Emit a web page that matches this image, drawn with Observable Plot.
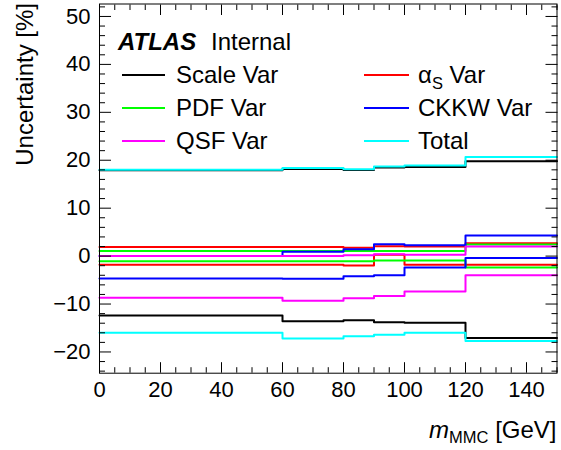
<!DOCTYPE html>
<html><head><meta charset="utf-8">
<script src="https://cdn.jsdelivr.net/npm/d3@7"></script>
<script src="https://cdn.jsdelivr.net/npm/@observablehq/plot@0.6"></script>
<style>
body{margin:0;background:#fff;}
#chart{position:relative;width:561px;height:450px;}
svg text{font-family:"Liberation Sans",Arial,Helvetica,sans-serif;}
</style>
</head><body><div id="chart"></div>
<script>
// ---- data ----
const binEdges = [0, 60, 80, 90, 100, 120, 150];
const seriesNames = ["Scale Var", "αS Var", "PDF Var", "CKKW Var", "QSF Var", "Total"];
const seriesColors = ["#000000", "#ff0000", "#00ff00", "#0000ff", "#ff00ff", "#00ffff"];
const scaleUp   = [17.9, 18.2, 17.95, 18.5, 18.6, 19.8];
const scaleDown = [-12.4, -13.6, -13.4, -13.8, -13.9, -17.1];
const alphaUp   = [1.88, 1.88, 1.74, 2.05, 2.0, 2.7];
const alphaDown = [-1.8, -1.8, -1.95, 0.3, -1.8, -1.8];
const pdfUp     = [1.05, 1.05, 1.05, 1.05, 1.05, 2.4];
const pdfDown   = [-1.05, -1.05, -1.05, -0.9, -0.9, -2.4];
const ckkwUp    = [0.0, 0.9, 1.45, 2.45, 2.25, 4.3];
const ckkwDown  = [-4.65, -4.7, -4.2, -4.0, -2.4, -0.4];
const qsfUp     = [0.0, 0.0, 0.2, 0.4, 0.3, 2.0];
const qsfDown   = [-8.7, -9.3, -8.8, -8.3, -7.4, -4.0];
const totalUp   = [18.0, 18.4, 18.1, 18.7, 18.9, 20.7];
const totalDown = [-16.0, -17.2, -16.7, -16.4, -16.0, -17.7];
const xMajor = [0, 20, 40, 60, 80, 100, 120, 140];
const yMajor = [-20, -10, 0, 10, 20, 30, 40, 50];

const seriesValues = [
  [scaleUp, scaleDown], [alphaUp, alphaDown], [pdfUp, pdfDown],
  [ckkwUp, ckkwDown], [qsfUp, qsfDown], [totalUp, totalDown]
];

// step points: each bin value at its low edge, last value repeated at the upper edge
function stepRows(vals, key) {
  const rows = vals.map((v, i) => ({x: binEdges[i], y: v, key}));
  rows.push({x: binEdges[binEdges.length - 1], y: vals[vals.length - 1], key});
  return rows;
}

const xMinor = d3.range(0, 151, 5).filter(d => !xMajor.includes(d));
const yMinor = d3.range(-24, 53, 2).filter(d => !yMajor.includes(d));

const lineMarks = [];
seriesValues.forEach((pair, s) => {
  pair.forEach((vals, j) => {
    lineMarks.push(Plot.line(stepRows(vals, s + "_" + j), {
      x: "x", y: "y", curve: "step-after",
      stroke: seriesColors[s], strokeWidth: 2
    }));
  });
});

const font = '"Liberation Sans",Arial,Helvetica,sans-serif';
const plot = Plot.plot({
  width: 561, height: 450,
  marginLeft: 99, marginRight: 4.5, marginTop: 3.5, marginBottom: 77.3,
  style: {fontFamily: font, background: "white", color: "black"},
  x: {domain: [0, 150], label: null},
  y: {domain: [-24.43, 52.6], label: null},
  marks: [
    ...lineMarks,
    // inward ticks on all four sides
    Plot.axisY(yMajor, {anchor: "left", tickSize: 12, dx: 12, text: null, label: null}),
    Plot.axisY(yMinor, {anchor: "left", tickSize: 6, dx: 6, text: null, label: null}),
    Plot.axisY(yMajor, {anchor: "right", tickSize: 12, dx: -12, text: null, label: null}),
    Plot.axisY(yMinor, {anchor: "right", tickSize: 6, dx: -6, text: null, label: null}),
    Plot.axisX(xMajor, {anchor: "bottom", tickSize: 10.5, dy: -10.5, text: null, label: null}),
    Plot.axisX(xMinor, {anchor: "bottom", tickSize: 5.5, dy: -5.5, text: null, label: null}),
    Plot.axisX(xMajor, {anchor: "top", tickSize: 10.5, dy: 10.5, text: null, label: null}),
    Plot.axisX(xMinor, {anchor: "top", tickSize: 5.5, dy: 5.5, text: null, label: null}),
    // tick labels
    Plot.axisY(yMajor, {anchor: "left", tickSize: 0, tickPadding: 9, fontSize: 22, label: null}),
    Plot.axisX(xMajor, {anchor: "bottom", tickSize: 0, tickPadding: 8, fontSize: 22, label: null}),
    Plot.frame({stroke: "black", strokeWidth: 1})
  ]
});
document.getElementById("chart").appendChild(plot);

// ---- titles and legend (real SVG text) ----
const svg = d3.select(plot);
svg.append("text")
  .attr("transform", "translate(33,3) rotate(-90)")
  .attr("text-anchor", "end").attr("font-size", 24).attr("fill", "black")
  .text("Uncertainty [%]");

const xt = svg.append("text").attr("x", 556.5).attr("y", 438)
  .attr("text-anchor", "end").attr("font-size", 24).attr("fill", "black");
xt.append("tspan").attr("font-style", "italic").text("m");
xt.append("tspan").attr("font-size", 16.5).attr("dy", 5).text("MMC");
xt.append("tspan").attr("dy", -5).text(" [GeV]");

svg.append("text").attr("x", 118).attr("y", 50).attr("font-size", 24)
  .attr("text-anchor", "start")
  .attr("font-weight", "bold").attr("font-style", "italic").attr("fill", "black").text("ATLAS");
svg.append("text").attr("x", 211).attr("y", 50).attr("font-size", 24)
  .attr("text-anchor", "start").attr("fill", "black").text("Internal");

const colX = [{l0: 122, l1: 165, t: 176}, {l0: 364, l1: 409, t: 418}];
const rowY = [83, 116, 149];
const legendOrder = [0, 1, 2, 3, 4, 5];
legendOrder.forEach((s, i) => {
  const c = colX[i % 2], yb = rowY[Math.floor(i / 2)];
  svg.append("line").attr("x1", c.l0).attr("x2", c.l1)
    .attr("y1", yb - 8).attr("y2", yb - 8)
    .attr("stroke", seriesColors[s]).attr("stroke-width", 2);
  const t = svg.append("text").attr("x", c.t).attr("y", yb)
    .attr("text-anchor", "start").attr("font-size", 24).attr("fill", "black");
  const name = seriesNames[s];
  if (name.startsWith("αS")) {
    t.append("tspan").text("α");
    t.append("tspan").attr("font-size", 16.5).attr("dy", 6).text("S");
    t.append("tspan").attr("dy", -6).text(name.slice(2));
  } else {
    t.text(name);
  }
});
</script>
</body></html>
